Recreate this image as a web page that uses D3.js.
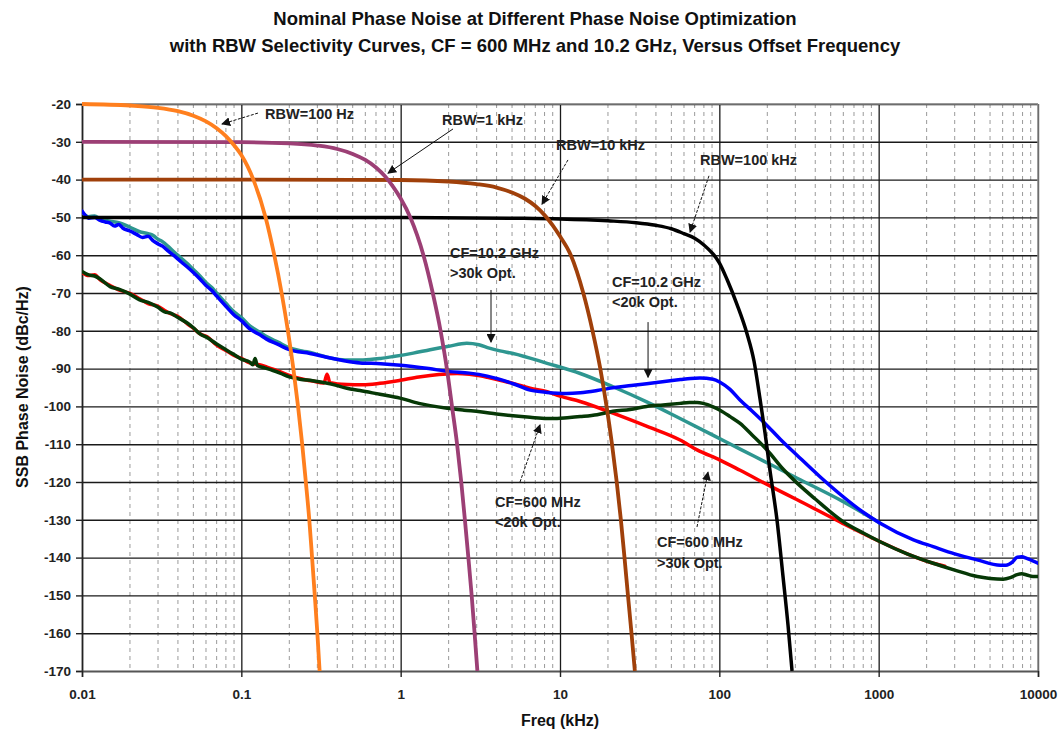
<!DOCTYPE html>
<html><head><meta charset="utf-8">
<script src="https://cdn.jsdelivr.net/npm/d3@7"></script>
<style>
html,body{margin:0;padding:0;background:#fff;}
svg{display:block;font-family:"Liberation Sans",Arial,sans-serif;}
</style></head>
<body><svg id="chart" width="1062" height="730"></svg>
<script>
// ---------- data ----------
const titleLines = ["Nominal Phase Noise at Different Phase Noise Optimization",
  "with RBW Selectivity Curves, CF = 600 MHz and 10.2 GHz, Versus Offset Frequency"];
const xTicks = [0.01, 0.1, 1, 10, 100, 1000, 10000];
const xTickLabels = ["0.01", "0.1", "1", "10", "100", "1000", "10000"];
const yTicks = [-20,-30,-40,-50,-60,-70,-80,-90,-100,-110,-120,-130,-140,-150,-160,-170];
const xTitle = "Freq (kHz)";
const yTitle = "SSB Phase Noise (dBc/Hz)";

// RBW selectivity curves [freq kHz, dB]
const rbw100Hz = [[0.01,-20],[0.02,-20.4],[0.03,-21],[0.04,-21.9],[0.05,-23.1],[0.06,-24.6],[0.07,-26.4],[0.08,-28.5],[0.09,-30.9],[0.1,-33.5],[0.119,-40],[0.142,-50],[0.161,-60],[0.179,-70],[0.196,-80],[0.212,-90],[0.227,-100],[0.241,-110],[0.254,-120],[0.267,-130],[0.278,-140],[0.289,-150],[0.3,-160],[0.31,-170]];
const rbw1kHz = [[0.01,-30],[0.1,-30.1],[0.2,-30.4],[0.3,-31],[0.4,-31.9],[0.5,-33.2],[0.6,-34.8],[0.7,-36.8],[0.8,-39.2],[0.9,-42],[1.0,-45],[1.15,-50],[1.39,-60],[1.59,-70],[1.78,-80],[1.95,-90],[2.1,-100],[2.26,-110],[2.4,-120],[2.53,-130],[2.66,-140],[2.79,-150],[2.91,-160],[3.03,-170]];
const rbw10kHz = [[0.01,-40],[0.1,-40],[1,-40.1],[2,-40.5],[3,-41.2],[4,-42.1],[5,-43.4],[6,-45],[7,-47],[8,-49.4],[9,-52.1],[10,-55],[11.7,-60],[14.0,-70],[16.0,-80],[17.9,-90],[19.6,-100],[21.2,-110],[22.7,-120],[24.1,-130],[25.4,-140],[26.7,-150],[28.1,-160],[29.5,-170]];
const rbw100kHz = [[0.01,-50],[0.1,-50],[1,-50],[5,-50.2],[10,-50.4],[20,-50.9],[30,-51.4],[40,-52.1],[50,-53.0],[60,-54.3],[70,-55.5],[80,-57.3],[90,-59.4],[100,-62],[112,-66.5],[129,-73],[149,-80.7],[165,-88],[180,-98],[193.5,-107],[208,-117],[230,-130],[251,-145],[270,-158],[286,-170]];

// Phase noise curves [freq kHz, dBc/Hz]
const cf102Below20k = [[0.01,-48.3],[0.0105,-49.5],[0.011,-50.2],[0.012,-50.0],[0.013,-50.8],[0.014,-51.2],[0.015,-51.5],[0.016,-52.3],[0.017,-51.9],[0.018,-52.8],[0.02,-53.6],[0.022,-54.5],[0.024,-55.3],[0.026,-55.0],[0.028,-56.2],[0.03,-57.0],[0.032,-57.6],[0.035,-59.0],[0.038,-60.2],[0.042,-61.8],[0.046,-63.2],[0.05,-64.6],[0.055,-66.3],[0.06,-68.0],[0.065,-69.3],[0.07,-70.8],[0.08,-73.5],[0.09,-75.8],[0.1,-77.3],[0.113,-79.5],[0.13,-81],[0.144,-82.2],[0.17,-83.6],[0.2,-85],[0.27,-86],[0.344,-87],[0.45,-88],[0.556,-88.5],[0.75,-88.7],[1.0,-89.1],[1.5,-90],[2.03,-90.8],[2.7,-91.2],[3.5,-92],[5.08,-94],[6.5,-95.7],[8.3,-96.3],[11,-96.6],[13.4,-96.4],[17.1,-95.8],[22,-95],[28,-94.5],[35,-94],[44,-93.5],[57,-92.9],[66,-92.6],[75.6,-92.5],[91.3,-92.8],[101,-93.6],[116.7,-95.5],[134.8,-98.3],[160.3,-101.2],[193.5,-104.5],[240.3,-108.6],[307.3,-112.9],[428.3,-118.6],[599,-123.9],[800,-128],[1022,-130.9],[1654,-135.3],[2199,-137.1],[3000,-139],[4153,-140.6],[5789,-142],[6300,-142],[6900,-141.2],[7400,-139.9],[7900,-139.8],[8500,-140.2],[9200,-140.8],[10000,-141.5]];
const cf102Above30k = [[0.01,-48.6],[0.011,-49.8],[0.012,-49.6],[0.013,-50.4],[0.015,-51.0],[0.017,-51.4],[0.02,-52.6],[0.023,-53.8],[0.026,-54.3],[0.028,-54.8],[0.03,-55.8],[0.032,-56.4],[0.035,-57.8],[0.038,-59.2],[0.042,-60.8],[0.046,-62.3],[0.05,-63.8],[0.055,-65.5],[0.06,-67.2],[0.065,-68.5],[0.07,-70],[0.08,-72.7],[0.09,-75],[0.1,-76.5],[0.113,-78.7],[0.13,-80.3],[0.144,-81.5],[0.17,-83],[0.2,-84.5],[0.24,-85.3],[0.282,-85.9],[0.36,-87.2],[0.45,-87.7],[0.58,-87.7],[0.75,-87.3],[0.9,-86.8],[1.2,-85.9],[1.53,-85],[2.0,-84.1],[2.6,-83.3],[3.1,-83.7],[3.6,-84.6],[4.2,-85.3],[5.08,-86],[8.3,-88.6],[13.4,-91.3],[21.5,-94.8],[35,-98.8],[56.7,-103.2],[91,-107.6],[135,-111.3],[208,-115.3],[308,-119],[599,-125.2],[1022,-130.9]];
const cf600Above30k = [[0.01,-64.5],[0.011,-65.4],[0.012,-65.2],[0.013,-66.5],[0.015,-68],[0.017,-69.2],[0.02,-70.1],[0.023,-71.5],[0.026,-72.8],[0.03,-73.5],[0.033,-74.6],[0.036,-75.5],[0.04,-76.2],[0.046,-78.2],[0.05,-79.3],[0.055,-80.8],[0.061,-81.6],[0.07,-83.8],[0.08,-85.2],[0.09,-86.5],[0.1,-87.3],[0.113,-88.5],[0.13,-89],[0.145,-89.6],[0.16,-90.2],[0.175,-90.8],[0.2,-91.8],[0.233,-92.6],[0.28,-93.3],[0.33,-93.8],[0.345,-91.5],[0.36,-93.7],[0.46,-94.2],[0.58,-94.3],[0.74,-93.9],[0.99,-93.1],[1.3,-92.2],[1.53,-91.8],[1.96,-91.4],[2.26,-91.3],[2.7,-91.5],[3.15,-91.9],[3.5,-92.3],[4.2,-93.1],[5.08,-93.9],[6.49,-95.2],[8.3,-96.1],[10,-97.3],[13.37,-98.7],[21.5,-101.8],[35.2,-105.3],[56.7,-108.9],[72.5,-111.5],[101,-114.2],[135,-116.9],[217.6,-121.5],[308,-124.7],[599,-131],[1022,-135.8],[1509,-139],[2199,-141.5],[2600,-142.3]];
const cf600Below20k = [[0.01,-64.3],[0.011,-65.2],[0.012,-65.5],[0.013,-66.3],[0.015,-68.3],[0.017,-69],[0.02,-70.3],[0.023,-71.8],[0.026,-72.5],[0.03,-73.8],[0.033,-75.0],[0.036,-75.3],[0.04,-76.5],[0.046,-78],[0.05,-79.2],[0.055,-80.8],[0.061,-81.8],[0.07,-83.5],[0.08,-85],[0.09,-86.3],[0.1,-87.5],[0.113,-88.3],[0.118,-89],[0.122,-87.3],[0.126,-89.2],[0.14,-89.8],[0.158,-90.5],[0.175,-91.2],[0.2,-92.2],[0.233,-92.8],[0.28,-93.2],[0.36,-94],[0.46,-95.2],[0.556,-95.8],[0.74,-96.8],[0.99,-97.8],[1.3,-99.2],[1.53,-99.8],[1.96,-100.5],[2.5,-101],[3.15,-101.4],[4,-102],[5.08,-102.5],[6.49,-102.9],[8.3,-103.2],[9.6,-103.2],[11.1,-103],[13.4,-102.7],[17.1,-102.2],[21.5,-101.3],[27.5,-100.8],[35,-100],[44.4,-99.6],[56.7,-99.2],[65,-99],[72.5,-99.0],[79,-99.2],[91.4,-100.1],[101,-101],[117,-102.7],[135,-104.5],[160,-107.5],[200,-111.6],[250,-116.5],[308,-120.3],[400,-124.5],[599,-130.5],[800,-133.5],[1022,-135.8],[1509,-139],[2199,-141.5],[3000,-143.3],[4153,-145],[5000,-145.5],[6046,-145.7],[6700,-145.3],[7400,-144.5],[7900,-144.3],[8500,-144.6],[9300,-145],[10000,-145]];

const noiseSeries = [
  {name:"CF=600 MHz >30k Opt.", data:cf600Above30k, color:"#ff0000", width:3.5},
  {name:"CF=10.2 GHz >30k Opt.", data:cf102Above30k, color:"#2e9690", width:3.5},
  {name:"CF=600 MHz <20k Opt.", data:cf600Below20k, color:"#063806", width:3.5},
  {name:"CF=10.2 GHz <20k Opt.", data:cf102Below20k, color:"#0000ff", width:3.5}
];
const rbwSeries = [
  {name:"RBW=100 kHz", data:rbw100kHz, color:"#000000", width:3.5},
  {name:"RBW=10 kHz", data:rbw10kHz, color:"#a0400a", width:3.8},
  {name:"RBW=1 kHz", data:rbw1kHz, color:"#9c3f75", width:3.8},
  {name:"RBW=100 Hz", data:rbw100Hz, color:"#ff7f1e", width:3.8}
];

// annotations: text at [f, dB] (left, first baseline), arrow from [f,dB] to [f,dB]
const annotations = [
  {lines:["RBW=100 Hz"], at:[0.1409,-23.9], from:[0.1272,-22.4], to:[0.0756,-25.3], dashed:true},
  {lines:["RBW=1 kHz"], at:[1.817,-25.6], from:[2.131,-26.6], to:[0.8326,-38.3], dashed:false},
  {lines:["RBW=10 kHz"], at:[9.44,-32.2], from:[11.22,-34.8], to:[7.71,-46.5], dashed:true},
  {lines:["RBW=100 kHz"], at:[75.6,-36.1], from:[86.1,-39.0], to:[65.5,-53.9], dashed:true},
  {lines:["CF=10.2 GHz",">30k Opt."], at:[2.04,-60.7], from:[3.69,-69.2], to:[3.69,-83.0], dashed:false},
  {lines:["CF=10.2 GHz","<20k Opt."], at:[21.2,-68.4], from:[35.7,-77.7], to:[35.7,-92.3], dashed:false},
  {lines:["CF=600 MHz","<20k Opt."], at:[3.91,-126.6], from:[5.61,-120], to:[7.49,-104.9], dashed:true},
  {lines:["CF=600 MHz",">30k Opt."], at:[40.6,-137.2], from:[72.4,-131.9], to:[84.9,-117.4], dashed:true}
];

// ---------- drawing ----------
const svg = d3.select("#chart");
const L = 82, R = 1038, T = 104, B = 671;
const x = d3.scaleLog().domain([0.01, 10000]).range([L, R]);
const y = d3.scaleLinear().domain([-170, -20]).range([B, T]);

// titles
svg.append("g").selectAll("text").data(titleLines).join("text")
  .attr("x", 535).attr("y", (d,i)=> 25 + i*27)
  .attr("text-anchor","middle").attr("font-size",18.5).attr("font-weight","bold")
  .attr("fill","#111").text(d=>d);

// minor vertical grid
const minor = [];
for (let e=-2; e<4; e++) for (let m=2; m<=9; m++) minor.push(m*Math.pow(10,e));
svg.append("g").selectAll("line").data(minor).join("line")
  .attr("x1", d=>x(d)).attr("x2", d=>x(d)).attr("y1", T).attr("y2", B)
  .attr("stroke","#9a9a9a").attr("stroke-width",1).attr("stroke-dasharray","4,4");

// major grid
svg.append("g").attr("transform",`translate(${L},0)`)
  .call(d3.axisLeft(y).tickValues(yTicks).tickSize(-(R-L)).tickFormat(""))
  .call(g=>g.select(".domain").remove())
  .call(g=>g.selectAll("line").attr("stroke","#1a1a1a").attr("stroke-width",1.4));
svg.append("g").attr("transform",`translate(0,${B})`)
  .call(d3.axisBottom(x).tickValues(xTicks).tickSize(-(B-T)).tickFormat(""))
  .call(g=>g.select(".domain").remove())
  .call(g=>g.selectAll("line").attr("stroke","#1a1a1a").attr("stroke-width",1.3));

// border top/right
svg.append("line").attr("x1",L).attr("x2",R).attr("y1",T).attr("y2",T).attr("stroke","#8a8a8a").attr("stroke-width",1.5);
svg.append("line").attr("x1",R).attr("x2",R).attr("y1",T).attr("y2",B).attr("stroke","#8a8a8a").attr("stroke-width",1.5);

// axes
const yAxis = svg.append("g").attr("transform",`translate(${L},0)`)
  .call(d3.axisLeft(y).tickValues(yTicks).tickSize(6).tickPadding(5).tickFormat(d=>String(d)));
yAxis.select(".domain").attr("stroke","#222").attr("stroke-width",1.6);
yAxis.selectAll("line").attr("stroke","#222").attr("stroke-width",1.4);
yAxis.selectAll("text").attr("font-size",13.5).attr("font-weight","bold").attr("fill","#222")
  .style("font-family",'"Liberation Sans",Arial,sans-serif');

const xAxis = svg.append("g").attr("transform",`translate(0,${B})`)
  .call(d3.axisBottom(x).tickValues(xTicks).tickSize(6).tickPadding(12).tickFormat((d,i)=>xTickLabels[i]));
xAxis.select(".domain").attr("stroke","#555").attr("stroke-width",1.6);
xAxis.selectAll("line").attr("stroke","#222").attr("stroke-width",1.4);
xAxis.selectAll("text").attr("font-size",13.5).attr("font-weight","bold").attr("fill","#222")
  .style("font-family",'"Liberation Sans",Arial,sans-serif');

// axis titles
svg.append("text").attr("x",560).attr("y",726).attr("text-anchor","middle")
  .attr("font-size",16).attr("font-weight","bold").attr("fill","#111").text(xTitle);
svg.append("text").attr("transform","translate(28,387) rotate(-90)").attr("text-anchor","middle")
  .attr("font-size",16).attr("font-weight","bold").attr("fill","#111").text(yTitle);

// curves
svg.append("defs").append("clipPath").attr("id","plotclip")
  .append("rect").attr("x",L).attr("y",T-3).attr("width",R-L).attr("height",B-T+3);
const line = d3.line().x(d=>x(d[0])).y(d=>y(d[1])).curve(d3.curveMonotoneX);
const plot = svg.append("g").attr("clip-path","url(#plotclip)");
plot.selectAll("path.noise").data(noiseSeries).join("path").attr("class","noise")
  .attr("d", d=>line(d.data)).attr("fill","none")
  .attr("stroke", d=>d.color).attr("stroke-width", d=>d.width)
  .attr("stroke-linejoin","round").attr("stroke-linecap","round");
plot.selectAll("path.rbw").data(rbwSeries).join("path").attr("class","rbw")
  .attr("d", d=>line(d.data)).attr("fill","none")
  .attr("stroke", d=>d.color).attr("stroke-width", d=>d.width)
  .attr("stroke-linejoin","round");

// arrowhead marker
svg.select("defs").append("marker").attr("id","ah")
  .attr("viewBox","0 0 10 10").attr("refX",9).attr("refY",5)
  .attr("markerWidth",9).attr("markerHeight",9).attr("markerUnits","userSpaceOnUse")
  .attr("orient","auto")
  .append("path").attr("d","M0,0 L10,5 L0,10 z").attr("fill","#111");

// annotations
const ann = svg.append("g");
annotations.forEach(a=>{
  ann.append("line")
    .attr("x1", x(a.from[0])).attr("y1", y(a.from[1]))
    .attr("x2", x(a.to[0])).attr("y2", y(a.to[1]))
    .attr("stroke","#111").attr("stroke-width",1)
    .attr("stroke-dasharray", a.dashed ? "3,1.5" : null)
    .attr("marker-end","url(#ah)");
  const t = ann.append("text").attr("x", x(a.at[0])).attr("y", y(a.at[1]))
    .attr("font-size",14.5).attr("font-weight","bold").attr("fill","#222");
  a.lines.forEach((s,i)=> t.append("tspan").attr("x", x(a.at[0])).attr("dy", i===0?0:20.5).text(s));
});
</script></body></html>
